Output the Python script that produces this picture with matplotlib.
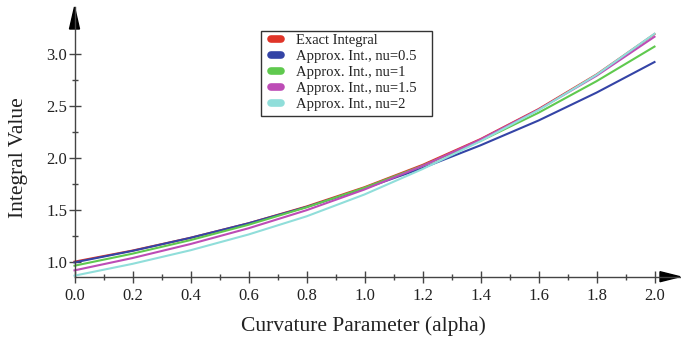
import matplotlib
matplotlib.use("Agg")
import matplotlib.pyplot as plt
from matplotlib.lines import Line2D
from matplotlib.patches import Polygon, Rectangle

# values
alpha = [0.0, 0.2, 0.4, 0.6, 0.8, 1.0, 1.2, 1.4, 1.6, 1.8, 2.0]
exact = [1.000, 1.107, 1.230, 1.370, 1.532, 1.718, 1.933, 2.182, 2.471, 2.805, 3.195]
nu_05 = [0.993, 1.104, 1.230, 1.370, 1.527, 1.706, 1.903, 2.122, 2.361, 2.630, 2.925]
nu_1 = [0.961, 1.077, 1.208, 1.356, 1.524, 1.713, 1.925, 2.164, 2.436, 2.740, 3.074]
nu_15 = [0.916, 1.035, 1.170, 1.322, 1.496, 1.696, 1.923, 2.178, 2.466, 2.793, 3.169]
nu_2 = [0.865, 0.979, 1.110, 1.262, 1.437, 1.648, 1.893, 2.162, 2.461, 2.802, 3.198]

labels = ["Exact Integral", "Approx. Int., nu=0.5", "Approx. Int., nu=1",
          "Approx. Int., nu=1.5", "Approx. Int., nu=2"]
colors = ["#e03428", "#3444a6", "#5fc94e", "#bd4cb6", "#90deda"]

plt.rcParams['font.family'] = ['Liberation Serif', 'DejaVu Serif']

W, H = 681, 339
fig = plt.figure(figsize=(W / 100, H / 100), dpi=100)
x0, y0, x1, y1 = 74.5, 276.7, 680, 7
ax = fig.add_axes([x0 / W, 1 - y0 / H, (x1 - x0) / W, (y0 - y1) / H])

for ys, c in zip([exact, nu_05, nu_1, nu_15, nu_2], colors):
    ax.plot(alpha, ys, color=c, lw=1.5, clip_on=False)

ax.set_xlim(0, (x1 - x0) / 290)
ax.set_ylim(0.855, 0.855 + (y0 - y1) / 103.7)

ax.set_xticks([0.0, 0.2, 0.4, 0.6, 0.8, 1.0, 1.2, 1.4, 1.6, 1.8, 2.0])
ax.set_xticks([0.1, 0.3, 0.5, 0.7, 0.9, 1.1, 1.3, 1.5, 1.7, 1.9], minor=True)
ax.set_yticks([1.0, 1.5, 2.0, 2.5, 3.0])
ax.set_yticks([1.25, 1.75, 2.25, 2.75], minor=True)
ax.set_xticklabels(["%.1f" % v for v in ax.get_xticks()])
ax.set_yticklabels(["%.1f" % v for v in ax.get_yticks()])

axis_col = "#444444"
for s in ["top", "right"]:
    ax.spines[s].set_visible(False)
for s in ["left", "bottom"]:
    ax.spines[s].set_color(axis_col)
    ax.spines[s].set_linewidth(1.0)
ax.tick_params(which="major", direction="inout", length=8.5, width=1.0,
               color=axis_col, labelsize=12, labelcolor="#222222")
ax.tick_params(which="minor", direction="inout", length=4, width=1.0, color=axis_col)
ax.tick_params(axis="x", which="major", pad=4)
ax.tick_params(axis="y", which="major", pad=1)
ax.patch.set_visible(False)

# arrow heads at the axis ends
aw, ah = x1 - x0, y0 - y1
ax.add_patch(Polygon([(1, 0), (1 - 20 / aw, 5 / ah), (1 - 20 / aw, -5 / ah)],
                     closed=True, color="black", transform=ax.transAxes, clip_on=False))
ax.add_patch(Polygon([(0, 1), (5 / aw, 1 - 22 / ah), (-5 / aw, 1 - 22 / ah)],
                     closed=True, color="black", transform=ax.transAxes, clip_on=False))

fig.text(363 / W, 1 - 331 / H, "Curvature Parameter (alpha)", ha="center",
         va="baseline", fontsize=15.5, color="#222222")
fig.text(23 / W, 1 - 157.5 / H, "Integral Value", ha="center", va="baseline",
         rotation=90, rotation_mode="anchor", fontsize=15.5, color="#222222")

# legend box drawn separately so its size matches the original
ax.add_patch(Rectangle((260.7 / W, 1 - 116 / H), (432 - 260.7) / W, (116 - 31) / H,
                       transform=fig.transFigure, facecolor="white",
                       edgecolor="#333333", lw=1.0, zorder=4, clip_on=False))
handles = [Line2D([], [], color=c, lw=5.5, solid_capstyle="round") for c in colors]
leg = ax.legend(handles, labels, loc="upper left",
                bbox_to_anchor=(270.5 / W, 1 - 33.5 / H), bbox_transform=fig.transFigure,
                borderaxespad=0, fontsize=10.5, frameon=False,
                handlelength=0.73, handletextpad=1.0, labelspacing=0.2,
                borderpad=0)
leg.set_zorder(5)
for t in leg.get_texts():
    t.set_color("#222222")

fig.savefig("out.png", dpi=100)
